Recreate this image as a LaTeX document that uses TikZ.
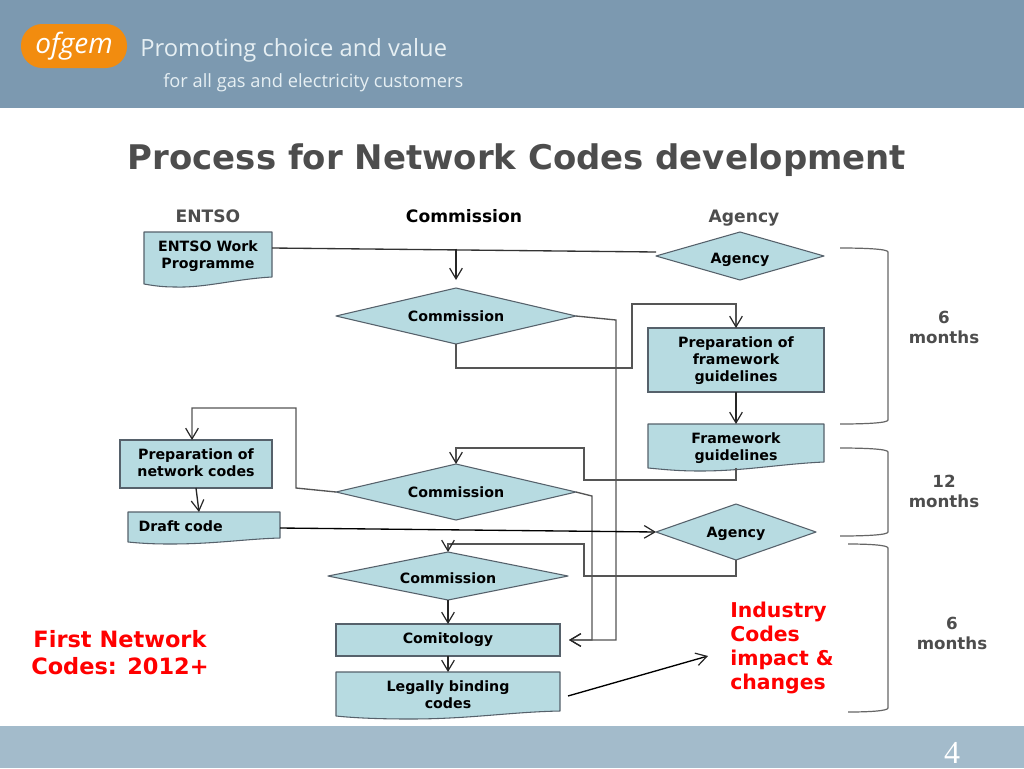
\documentclass[tikz,border=0pt]{standalone}
\usepackage{fontspec}
\setmainfont{DejaVu Sans}
\newfontfamily\headfont{Open Sans}
\newfontfamily\logofont{Open Sans}
\newfontfamily\pagefont{Liberation Serif}
\usetikzlibrary{shapes.geometric,arrows.meta}
\definecolor{boxfill}{HTML}{B7DBE1}
\definecolor{boxline}{HTML}{56616B}
\definecolor{headbar}{HTML}{7C99B0}
\definecolor{footbar}{HTML}{A3BBCB}
\definecolor{greytext}{HTML}{4D4D4D}
\definecolor{logoorange}{HTML}{F28C0F}
\definecolor{headtext}{HTML}{E6EFF3}
\definecolor{linegrey}{HTML}{555555}
\tikzset{
  x=0.75pt,y=-0.75pt,
  boxlabel/.style={font=\bfseries\fontsize{10.65}{12.8}\selectfont,align=center,text=black,inner sep=0pt},
  procbox/.style={boxlabel,rectangle,draw=boxline,fill=boxfill,line width=0.8pt,inner sep=0pt},
  docbox/.style={draw=boxline,fill=boxfill,line width=0.8pt,line join=round},
  flow/.style={draw=linegrey,line width=1pt},
  arrowflow/.style={flow,-{Straight Barb[length=8pt,width=9.5pt,line width=0.9pt,color=black!85]}},
  arrowdark/.style={arrowflow,draw=black!85},
  bracket/.style={draw=black!60,line width=0.9pt},
  colhead/.style={font=\bfseries\fontsize{12.85}{15}\selectfont,inner sep=0pt},
  durlabel/.style={font=\bfseries\fontsize{12.5}{15}\selectfont,text=greytext,align=center,inner sep=0pt},
  redlabel/.style={font=\bfseries\fontsize{15.3}{18}\selectfont,text=red,inner sep=0pt},
}
\begin{document}
\begin{tikzpicture}
\useasboundingbox (0,0) rectangle (1024,768);
\fill[white] (0,0) rectangle (1024,768);
\fill[headbar] (0,0) rectangle (1024,108);
\fill[footbar] (0,726) rectangle (1024,768);
\fill[logoorange,rounded corners=16pt] (21,24) rectangle (127,68);
\node[text=white,inner sep=0pt,font=\logofont\itshape\fontsize{21}{24}\selectfont] (logo) at (74,46) {ofgem};
\node[anchor=west,text=headtext,inner sep=0pt,font=\headfont\fontsize{17.8}{22}\selectfont] (slogan) at (140,50) {Promoting choice and value};
\node[anchor=west,text=headtext,inner sep=0pt,font=\logofont\fontsize{13.7}{16}\selectfont] (sub) at (163,83) {for all gas and electricity customers};
\node[text=greytext,inner sep=0pt,font=\bfseries\fontsize{25.45}{30}\selectfont] (title) at (517,160) {Process for Network Codes development};
\node[colhead,text=greytext] (hE) at (208,216) {ENTSO};
\node[colhead,text=black] (hC) at (464,216) {Commission};
\node[colhead,text=greytext] (hA) at (744,218) {Agency};

% document shapes
\path[docbox] (144,232) -- (272,232) -- (272,277) .. controls (235,279) and (205,288) .. (175,287) .. controls (160,287) and (150,285) .. (144,284) -- cycle;
\node[boxlabel,minimum width=96pt,minimum height=33pt] (wp) at (208,256.5) {ENTSO Work\\Programme};
\path[docbox] (648,424) -- (824,424) -- (824,462) .. controls (780,464) and (745,471) .. (700,471) .. controls (675,471) and (660,469) .. (648,468) -- cycle;
\node[boxlabel,minimum width=132pt,minimum height=28.5pt] (fw) at (736,448.5) {Framework\\guidelines};
\path[docbox] (128,512) -- (280,512) -- (280,538) .. controls (245,539) and (215,544) .. (170,544) .. controls (150,544) and (138,543) .. (128,542) -- cycle;
\node[boxlabel,text width=101pt,align=left] (draft) at (206,526.5) {Draft code};
\path[docbox] (336,672) -- (560,672) -- (560,711) .. controls (510,712) and (470,719) .. (410,719) .. controls (380,719) and (355,718) .. (336,716) -- cycle;
\node[boxlabel,minimum width=168pt,minimum height=29pt] (legal) at (448,695) {Legally binding\\codes};

% rectangles
\node[procbox,minimum width=132pt,minimum height=48pt] (pf) at (736,360) {};
\node[boxlabel] (pft) at (736,361) {Preparation of\\framework\\guidelines};
\node[procbox,minimum width=114pt,minimum height=36pt] (pn) at (196,464) {};
\node[boxlabel] (pnt) at (196,463) {Preparation of\\network codes};
\node[procbox,minimum width=168pt,minimum height=24pt] (com) at (448,640) {};
\node[boxlabel] (comt) at (448,640) {Comitology};

% diamonds
\path[docbox] (656,256) -- (740,232) -- (824,256) -- (740,280) -- cycle;
\node[boxlabel,minimum width=126pt,minimum height=36pt] (ag1) at (740,260) {Agency};
\path[docbox] (336,316) -- (456,288) -- (576,316) -- (456,344) -- cycle;
\node[boxlabel,minimum width=180pt,minimum height=42pt] (c1) at (456,316) {Commission};
\path[docbox] (336,492) -- (456,464) -- (576,492) -- (456,520) -- cycle;
\node[boxlabel,minimum width=180pt,minimum height=42pt] (c2) at (456,492) {Commission};
\path[docbox] (656,532) -- (736,504) -- (816,532) -- (736,560) -- cycle;
\node[boxlabel,minimum width=120pt,minimum height=42pt] (ag2) at (736,534) {Agency};
\path[docbox] (328,576) -- (448,552) -- (568,576) -- (448,600) -- cycle;
\node[boxlabel,minimum width=180pt,minimum height=36pt] (c3) at (448,578) {Commission};

% connector end points
\coordinate (wpR) at (272,248);
\coordinate (ag1L) at (656,252);
\coordinate (branch) at (456,248.5);
\coordinate (c1T) at (456,280);
\coordinate (c1R) at (576,316);
\coordinate (c1B) at (456,344);
\coordinate (pfT) at (736,328);
\coordinate (pfB) at (736,392);
\coordinate (fwT) at (736,424);
\coordinate (fwB) at (736,468);
\coordinate (c2T) at (456,464);
\coordinate (c2R) at (576,492);
\coordinate (c2L) at (336,492);
\coordinate (pnT) at (192,440);
\coordinate (pnB) at (196,488);
\coordinate (drT) at (199,512);
\coordinate (drR) at (280,528);
\coordinate (ag2L) at (656,532);
\coordinate (ag2B) at (736,560);
\coordinate (c3T) at (448,552);
\coordinate (c3B) at (448,600);
\coordinate (comT) at (448,624);
\coordinate (comB) at (448,656);
\coordinate (legT) at (448,672);
\coordinate (comR) at (569,640);
\coordinate (legR) at (568,696);
\coordinate (indL) at (708,656);

\draw[flow,draw=black!80] (wpR) -- (ag1L);
\draw[arrowdark] (branch) -- (c1T);
\draw[arrowflow] (c1R) -- (616,320) -- (616,640) -- (comR);
\draw[arrowflow] (c1B) -- (456,368) -- (632,368) -- (632,304) -- (736,304) -- (pfT);
\draw[arrowdark] (pfB) -- (fwT);
\draw[arrowflow] (fwB) -- (736,480) -- (584,480) -- (584,448) -- (456,448) -- (c2T);
\draw[arrowflow] (c2R) -- (592,496) -- (592,640) -- (comR);
\draw[arrowflow] (c2L) -- (296,488) -- (296,408) -- (192,408) -- (pnT);
\draw[arrowdark] (pnB) -- (drT);
\draw[arrowdark,draw=black] (drR) -- (ag2L);
\draw[arrowflow] (ag2B) -- (736,576) -- (584,576) -- (584,544) -- (448,544) -- (c3T);
\draw[arrowdark] (c3B) -- (comT);
\draw[arrowdark] (comB) -- (legT);
\draw[arrowdark,draw=black] (legR) -- (indL);

% brackets
\coordinate (b1a) at (840,248); \coordinate (b1b) at (840,424);
\coordinate (b2a) at (840,448); \coordinate (b2b) at (840,536);
\coordinate (b3a) at (848,544); \coordinate (b3b) at (848,712);
\draw[bracket] (b1a) .. controls (865,248) and (888,249) .. (888,252) -- (888,420) .. controls (888,423) and (865,424) .. (b1b);
\draw[bracket] (b2a) .. controls (865,448) and (888,449) .. (888,452) -- (888,532) .. controls (888,535) and (865,536) .. (b2b);
\draw[bracket] (b3a) .. controls (868,544) and (888,545) .. (888,548) -- (888,708) .. controls (888,711) and (868,712) .. (b3b);

\node[durlabel] (d1) at (944,327) {6\\months};
\node[durlabel] (d2) at (944,491) {12\\months};
\node[durlabel] (d3) at (952,633) {6\\months};
\node[redlabel,align=center,font=\bfseries\fontsize{16.85}{20.2}\selectfont] (first) at (120,653) {First Network\\Codes: 2012+};
\node[redlabel,align=left,anchor=west] (ind) at (730,648) {Industry\\Codes\\impact \&\\changes};
\node[text=white,inner sep=0pt,font=\pagefont\fontsize{24}{26}\selectfont] (page) at (952,753) {4};
\end{tikzpicture}
\end{document}
